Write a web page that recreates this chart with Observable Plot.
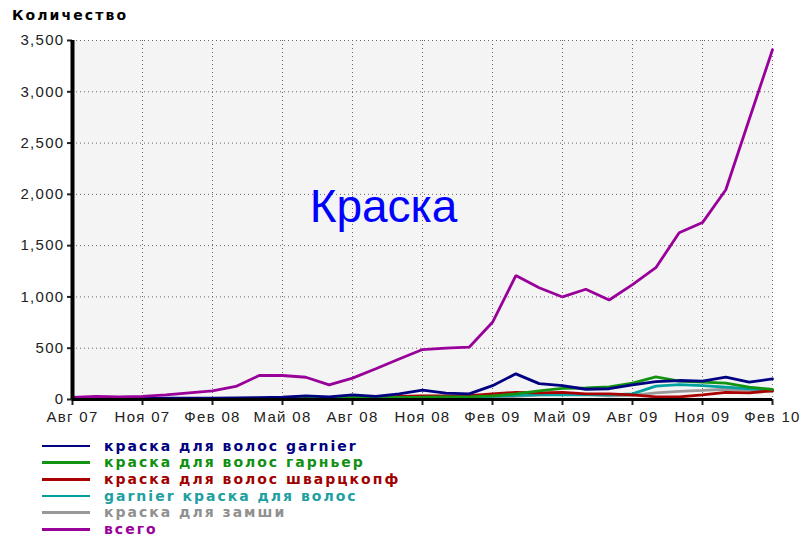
<!DOCTYPE html>
<html><head><meta charset="utf-8">
<script src="https://cdn.jsdelivr.net/npm/d3@7"></script>
<script src="https://cdn.jsdelivr.net/npm/@observablehq/plot@0.6"></script>
<style>
body{margin:0;background:#fff;width:800px;height:537px;overflow:hidden;position:relative;font-family:"Liberation Sans",Arial,sans-serif;}
#title{position:absolute;left:12px;top:7px;font:bold 14px "DejaVu Sans";letter-spacing:2.1px;color:#000;}
#chart{position:absolute;left:0;top:0;}
#chart svg text{letter-spacing:1.3px;}
#word{position:absolute;left:383.5px;top:182.8px;transform:translateX(-50%);font:46px/46px "Liberation Sans",Arial,sans-serif;color:#0000ff;white-space:nowrap;}
#legend{position:absolute;left:0;top:437.5px;}
.row{position:relative;height:16.7px;width:800px;}
.sw{position:absolute;left:42px;top:7.2px;width:48px;height:2.5px;}
.lab{position:absolute;left:104px;top:0;font:bold 14px "DejaVu Sans";letter-spacing:2px;line-height:16.7px;white-space:nowrap;}
</style></head><body>
<div id="chart"></div>
<div id="title">Количество</div>
<div id="word">Краска</div>
<div id="legend"></div>
<script>
const months = ["Авг 07","Сен 07","Окт 07","Ноя 07","Дек 07","Янв 08","Фев 08","Мар 08","Апр 08","Май 08","Июн 08","Июл 08","Авг 08","Сен 08","Окт 08","Ноя 08","Дек 08","Янв 09","Фев 09","Мар 09","Апр 09","Май 09","Июн 09","Июл 09","Авг 09","Сен 09","Окт 09","Ноя 09","Дек 09","Янв 10","Фев 10"];
const tickLabels = ["Авг 07","Ноя 07","Фев 08","Май 08","Авг 08","Ноя 08","Фев 09","Май 09","Авг 09","Ноя 09","Фев 10"];
const yTicks = [0,500,1000,1500,2000,2500,3000,3500];

const seriesNames = ["краска для волос garnier","краска для волос гарньер","краска для волос шварцкопф","garnier краска для волос","краска для замши","всего"];
const seriesColors = ["#000080","#129412","#aa0000","#00a0a0","#999999","#990099"];
const legendTextColors = ["#000080","#109010","#a00000","#20a0a0","#909090","#990099"];

const garnier   = [10,10,10,10,12,12,12,15,18,22,35,25,45,30,55,92,62,55,135,250,155,136,100,105,143,175,185,179,218,169,200];
const garnierRu = [3,3,3,3,3,3,5,10,12,12,12,15,20,18,20,22,25,25,35,55,85,108,112,122,160,220,180,170,160,120,98];
const schwarz   = [2,2,2,2,2,2,3,3,5,10,8,5,10,15,30,35,35,38,55,70,65,70,55,55,45,25,25,45,70,65,85];
const garnier2  = [2,2,2,2,2,2,5,8,10,10,10,12,15,15,18,20,22,22,30,40,45,45,45,45,55,130,145,135,120,105,90];
const suede     = [0,0,0,0,0,0,0,0,0,0,2,2,3,3,5,5,5,8,15,30,45,50,50,35,40,65,80,88,100,88,80];
const total     = [20,30,25,30,45,65,85,127,234,234,217,143,208,300,395,487,500,510,753,1208,1090,1000,1075,970,1120,1285,1625,1725,2045,2730,3410];

const seriesValues = [garnier, garnierRu, schwarz, garnier2, suede, total];
const drawOrder = [4,3,2,1,0,5];
const rows = drawOrder.flatMap(k => seriesValues[k].map((v,i) => ({i, month: months[i], v, s: seriesNames[k]})));
const tickIdx = tickLabels.map(l => months.indexOf(l));

const chart = Plot.plot({
  width: 800, height: 432,
  marginTop: 40, marginLeft: 72, marginRight: 28, marginBottom: 33,
  style: {fontFamily: "'Liberation Sans', Arial, sans-serif", fontSize: "15px", color: "#222", background: "transparent", overflow: "visible"},
  x: {type: "linear", domain: [0, months.length - 1]},
  y: {domain: [0, 3500]},
  color: {domain: seriesNames, range: seriesColors},
  marks: [
    Plot.frame({fill: "#f4f4f4", stroke: null}),
    Plot.gridX(tickIdx.slice(1), {stroke: "#666", strokeOpacity: 1, strokeWidth: 1, strokeDasharray: "1,3"}),
    Plot.gridY(yTicks.slice(1), {stroke: "#666", strokeOpacity: 1, strokeWidth: 1, strokeDasharray: "1,3"}),
    Plot.line(rows, {x: "i", y: "v", z: "s", stroke: "s", strokeWidth: 2.8, strokeLinejoin: "miter"}),
    Plot.axisY(yTicks, {tickSize: 5, tickPadding: 3, tickFormat: d3.format(","), strokeWidth: 2, color: "#222", label: null}),
    Plot.axisX(tickIdx, {tickSize: 6, tickPadding: 6, tickFormat: i => months[i], strokeWidth: 2, color: "#222", label: null}),
    Plot.ruleX([0], {stroke: "#000", strokeWidth: 4}),
    Plot.ruleY([0], {stroke: "#000", strokeWidth: 3})
  ]
});
document.getElementById("chart").appendChild(chart);

const legend = document.getElementById("legend");
seriesNames.forEach((name, k) => {
  const row = document.createElement("div");
  row.className = "row";
  const sw = document.createElement("div");
  sw.className = "sw";
  sw.style.background = seriesColors[k];
  const lab = document.createElement("div");
  lab.className = "lab";
  lab.style.color = legendTextColors[k];
  lab.textContent = name;
  row.appendChild(sw); row.appendChild(lab);
  legend.appendChild(row);
});
</script>
</body></html>
